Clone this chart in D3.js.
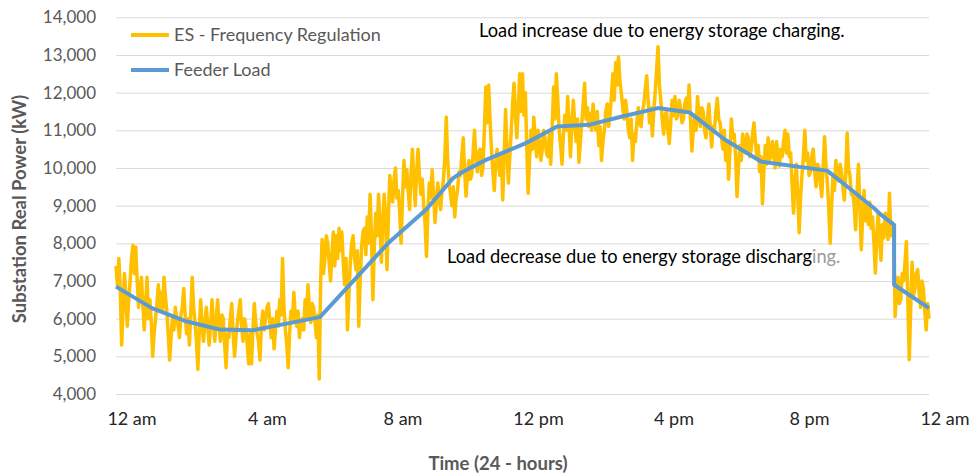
<!DOCTYPE html>
<html>
<head>
<meta charset="utf-8">
<script src="https://cdn.jsdelivr.net/npm/d3@7"></script>
<style>
  body { margin: 0; background: #fff; }
  svg { display: block; font-family: Lato, "Open Sans", sans-serif; }
</style>
</head>
<body>
<svg id="chart" width="973" height="473"></svg>
<script>
// ES - Frequency Regulation, kW, one value every 2.5 minutes from 12 am (one row per hour)
const esStepMinutes = 2.5;
const esKW = [
  7400, 6900, 7600, 6800, 5300, 6300, 7200, 6600, 5800, 6500, 7000, 7600, 7950, 7200, 7900, 7000, 6300, 6800, 7100, 6400, 5700, 6400, 7100, 6000,
  6500, 5900, 5000, 5600, 6000, 6400, 6900, 6300, 6700, 6200, 7100, 6600, 6200, 5600, 4900, 5500, 6000, 5700, 6300, 6000, 5800, 5500, 6100, 6300,
  6800, 6100, 5600, 6000, 5300, 6200, 7100, 6300, 5900, 5400, 4650, 5700, 6500, 5800, 5400, 5900, 6300, 5800, 5300, 5800, 6500, 5900, 5400, 6000,
  6500, 5800, 5400, 6100, 6000, 5300, 4700, 5600, 5500, 6000, 6400, 5600, 5000, 5500, 5900, 6200, 6500, 5800, 5400, 6000, 5800, 5300, 4800, 5600,
  4800, 5700, 6400, 5900, 5600, 5400, 4900, 5800, 6200, 5700, 6000, 6300, 6400, 5900, 5500, 6000, 5200, 5700, 6200, 5800, 6500, 6100, 7600, 6300,
  5700, 5300, 4700, 5600, 6200, 5900, 6700, 6100, 5800, 6200, 5500, 5900, 6000, 5700, 6500, 6000, 6900, 6300, 5900, 6400, 6300, 5900, 5500, 6100,
  4400, 7000, 8100, 7200, 7600, 8200, 8000, 7500, 7000, 7700, 8300, 7400, 8200, 7600, 8400, 7800, 8300, 7500, 6900, 7600, 5700, 6600, 7500, 8000,
  8200, 7600, 7300, 7800, 5800, 7000, 7900, 8300, 8400, 7700, 8700, 8000, 9300, 8200, 6500, 7900, 8800, 8200, 9300, 8600, 7500, 8500, 9300, 8700,
  7300, 8700, 9800, 9300, 9100, 9700, 10000, 9200, 9400, 8800, 8000, 9200, 10200, 9500, 9950, 9400, 8900, 9800, 10500, 9700, 9000, 9900, 10500, 9800,
  9300, 9700, 9000, 8500, 7650, 8900, 9600, 9200, 9950, 9300, 8550, 9100, 9600, 9200, 8900, 9400, 9700, 10300, 11350, 10200, 9600, 9300, 9000, 9500,
  8700, 9200, 9400, 9900, 9800, 10300, 10800, 9900, 9250, 9800, 10200, 9700, 9800, 10400, 11000, 10300, 9900, 10400, 10500, 9800, 10000, 11000, 12150, 11200,
  12200, 11300, 10500, 9900, 9400, 10100, 10500, 10100, 9800, 10400, 9150, 10300, 11550, 10500, 9600, 10300, 11000, 11700, 12250, 11400, 10800, 11600, 12500, 11500,
  12500, 11400, 12000, 10600, 9330, 10200, 11000, 10500, 11350, 10800, 10300, 11000, 10700, 10200, 10500, 11000, 10750, 10400, 10300, 10900, 10100, 11000, 12150, 11300,
  12500, 11800, 11000, 10600, 10100, 10900, 11400, 11000, 11900, 11100, 10300, 11200, 11800, 11200, 10700, 11300, 10150, 10700, 11200, 11700, 12250, 11300, 11600, 11100,
  11450, 11000, 11700, 11300, 11000, 11500, 10600, 11100, 10200, 10700, 11000, 11500, 11700, 11100, 11400, 11900, 12500, 11800, 12800, 12200, 12950, 12300, 12000, 11600,
  11300, 11800, 11500, 11000, 10800, 11300, 10200, 10900, 10700, 11200, 11600, 11200, 11100, 11500, 11700, 12100, 12450, 11800, 11200, 11600, 10850, 11500, 12000, 12600,
  13220, 12200, 11800, 11300, 10900, 11400, 11500, 11000, 10650, 11200, 11800, 11400, 11900, 11300, 11400, 11800, 11600, 11200, 11300, 11700, 11850, 11500, 12200, 11300,
  10450, 11000, 11400, 11000, 11900, 11400, 11100, 11600, 11500, 11000, 10800, 11300, 11700, 11100, 10560, 11100, 11000, 11500, 11850, 11300, 11200, 10800, 10500, 11000,
  10200, 10700, 9700, 10500, 11300, 10800, 10900, 10300, 9240, 10000, 10600, 10200, 10900, 10500, 10400, 10900, 10800, 10300, 10500, 10900, 11200, 10700, 10300, 10600,
  9900, 10300, 9050, 9900, 10600, 10100, 10800, 10200, 10300, 10700, 10400, 10000, 10700, 10300, 10050, 10500, 10300, 10700, 11000, 10400, 10900, 10300, 10400, 9600,
  8800, 9600, 10100, 9300, 8280, 9200, 9800, 10300, 11000, 10200, 10400, 9800, 9900, 10300, 10500, 9900, 9500, 10100, 10000, 9600, 9240, 10000, 10830, 10100,
  9600, 8900, 8000, 9000, 9800, 9400, 10200, 9700, 9650, 10100, 9900, 9500, 9150, 9800, 10930, 10000, 9800, 9300, 9330, 9000, 8360, 9300, 10100, 9000,
  7830, 8700, 9400, 8600, 9000, 8500, 9100, 8400, 8700, 8000, 7210, 8200, 8800, 8100, 7550, 8500, 8150, 8800, 8600, 8100, 9330, 8200, 8550, 8400,
  6060, 6700, 7100, 6400, 6500, 7200, 7000, 7500, 8050, 6500, 4910, 6200, 7500, 6600, 6800, 7200, 7300, 6700, 6300, 7000, 6800, 6200, 5700, 6400,
  6000
];

// Feeder Load, kW
const loadHours = [0, 1.06, 2.07, 3.07, 4.02, 6.02, 8.03, 9.15, 9.95, 10.24, 10.92, 12.1,
  13.02, 13.96, 14.94, 16.0, 16.94, 17.98, 19.04, 20.99, 21.4, 22.38, 22.58, 22.97, 22.97, 24];
const loadKW = [6850, 6280, 5930, 5710, 5690, 6040, 8000, 8890, 9730, 9900, 10215, 10660,
  11100, 11145, 11365, 11590, 11470, 10750, 10170, 9930, 9640, 8930, 8760, 8490, 6900, 6280];

const yTicks = [4000, 5000, 6000, 7000, 8000, 9000, 10000, 11000, 12000, 13000, 14000];
const xTickHours = [0, 4, 8, 12, 16, 20, 24];
const xTickLabels = ["12 am", "4 am", "8 am", "12 pm", "4 pm", "8 pm", "12 am"];

const seriesNames = ["ES - Frequency Regulation", "Feeder Load"];
const seriesColors = ["#FFC000", "#5B9BD5"];

const plotLeft = 116, plotRight = 929, plotTop = 17.3, plotBottom = 394;

const svg = d3.select("#chart");

const x = d3.scaleLinear().domain([0, 24]).range([plotLeft, plotRight]);
const y = d3.scaleLinear().domain([4000, 14000]).range([plotBottom, plotTop]);

// gridlines
svg.append("g")
  .attr("transform", `translate(${plotLeft},0)`)
  .call(d3.axisLeft(y).tickValues(yTicks).tickSize(-(plotRight - plotLeft)).tickFormat(""))
  .call(g => g.select(".domain").remove())
  .call(g => g.selectAll("line").attr("stroke", "#d9d9d9").attr("stroke-width", 1));

// y labels
svg.append("g")
  .attr("transform", `translate(${plotLeft - 17},0)`)
  .call(d3.axisLeft(y).tickValues(yTicks).tickSize(0).tickFormat(d3.format(",")))
  .call(g => g.select(".domain").remove())
  .call(g => g.selectAll("text")
    .attr("fill", "#595959")
    .style("font-size", "17px")
    .style("font-family", "Lato, sans-serif"));

// x labels (Excel draws them a little right of the hour)
svg.append("g")
  .attr("transform", `translate(15.5,${plotBottom})`)
  .call(d3.axisBottom(x).tickValues(xTickHours).tickSize(0).tickFormat((d, i) => xTickLabels[i]))
  .call(g => g.select(".domain").remove())
  .call(g => g.selectAll("text")
    .attr("dy", "28")
    .attr("fill", "#262626")
    .style("font-size", "18px")
    .style("font-family", "Lato, sans-serif"));

const esLine = d3.line()
  .x((d, i) => x(i * esStepMinutes / 60))
  .y(d => y(d));

svg.append("path")
  .datum(esKW)
  .attr("fill", "none")
  .attr("stroke", seriesColors[0])
  .attr("stroke-width", 3.5)
  .attr("stroke-linejoin", "round")
  .attr("d", esLine);

const loadLine = d3.line()
  .x(d => x(d[0]))
  .y(d => y(d[1]));

svg.append("path")
  .datum(loadHours.map((h, i) => [h, loadKW[i]]))
  .attr("fill", "none")
  .attr("stroke", seriesColors[1])
  .attr("stroke-width", 4)
  .attr("stroke-linejoin", "round")
  .attr("d", loadLine);

// legend
const legend = svg.append("g").attr("transform", "translate(131,35)");
seriesNames.forEach((name, i) => {
  legend.append("line")
    .attr("x1", 0).attr("x2", 38)
    .attr("y1", i * 35).attr("y2", i * 35)
    .attr("stroke", seriesColors[i])
    .attr("stroke-width", 4);
  legend.append("text")
    .attr("x", 43).attr("y", i * 35)
    .attr("dy", "0.36em")
    .attr("fill", "#595959")
    .style("font-size", "18px")
    .text(name);
});

// annotations
svg.append("text")
  .attr("x", 479).attr("y", 37)
  .attr("fill", "#000")
  .style("font-size", "18.3px")
  .text("Load increase due to energy storage charging.");

const note2 = svg.append("text")
  .attr("x", 447).attr("y", 263)
  .attr("fill", "#000")
  .style("font-size", "18.3px");
note2.append("tspan").text("Load decrease due to energy storage discharg");
note2.append("tspan").attr("fill", "#9a9a9a").text("ing.");

// axis titles
svg.append("text")
  .attr("transform", "translate(26,209) rotate(-90)")
  .attr("text-anchor", "middle")
  .attr("fill", "#595959")
  .style("font-size", "18.5px")
  .style("font-weight", "bold")
  .text("Substation Real Power (kW)");

svg.append("text")
  .attr("x", 498).attr("y", 470)
  .attr("text-anchor", "middle")
  .attr("fill", "#595959")
  .style("font-size", "18.5px")
  .style("font-weight", "bold")
  .text("Time (24 - hours)");
</script>
</body>
</html>
